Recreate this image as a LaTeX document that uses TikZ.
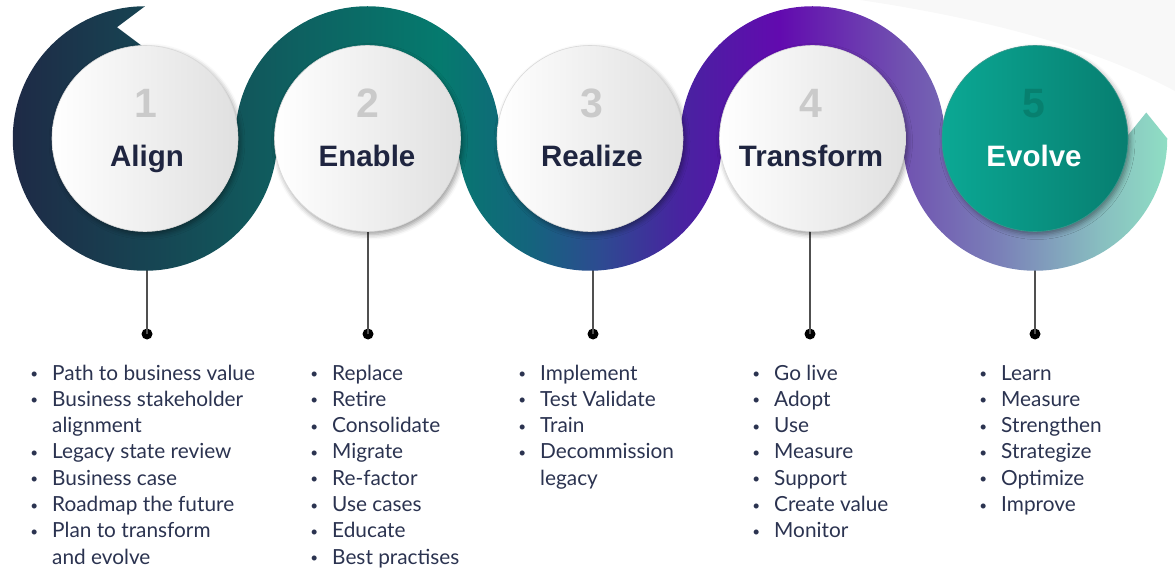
\documentclass[tikz,border=0pt]{standalone}
\usepackage{fontspec}
\setmainfont{Liberation Sans}
\newfontfamily\listfont{Lato}
\usetikzlibrary{shadows.blur}
\definecolor{bcA}{HTML}{1E2A46}
\definecolor{bcB}{HTML}{11585C}
\definecolor{bcC}{HTML}{057A6E}
\definecolor{bcD}{HTML}{14647D}
\definecolor{bcE}{HTML}{2D4B91}
\definecolor{bcF}{HTML}{4823A0}
\definecolor{bcG}{HTML}{620AAF}
\definecolor{bcH}{HTML}{7050B0}
\definecolor{bcI}{HTML}{7A80B8}
\definecolor{bcJ}{HTML}{88BEC0}
\definecolor{bcK}{HTML}{8FDEC4}
\definecolor{navytxt}{HTML}{1F2540}
\definecolor{listtxt}{HTML}{2B3350}
\definecolor{numgray}{HTML}{CACACA}
\definecolor{bubR}{HTML}{E0E0E0}
\definecolor{tealL}{HTML}{0BA894}
\definecolor{tealR}{HTML}{077E70}
\definecolor{tealnum}{HTML}{07806F}
\definecolor{stemgray}{HTML}{505050}
\definecolor{faintbg}{HTML}{F8F8F8}
\pgfdeclarehorizontalshading{bandshade}{100bp}{color(0bp)=(bcA); color(25bp)=(bcA); color(35.3bp)=(bcB); color(43.5bp)=(bcC); color(47.4bp)=(bcD); color(50.4bp)=(bcE); color(53.9bp)=(bcF); color(58.2bp)=(bcG); color(63.4bp)=(bcH); color(67.7bp)=(bcI); color(72.1bp)=(bcJ); color(75bp)=(bcK); color(100bp)=(bcK)}
\newcommand{\bi}{\makebox[0pt][r]{\raisebox{1.5pt}{\fontsize{13.5}{13.5}\selectfont •}\hspace{14pt}}}
\tikzset{
  bubble/.style={circle, minimum size=186pt, inner sep=0pt, draw=gray!30, line width=0.6pt,
    left color=white, right color=bubR,
    blur shadow={shadow xshift=2pt, shadow yshift=-3pt, shadow blur radius=5pt, shadow opacity=40}},
  bubteal/.style={bubble, draw=tealR!80!white, left color=tealL, right color=tealR},
  numtxt/.style={anchor=base, inner sep=0pt, text=numgray, font=\fontsize{41}{41}\selectfont\bfseries},
  labtxt/.style={anchor=base, inner sep=0pt, text=navytxt, font=\fontsize{29.5}{30}\selectfont\bfseries},
  stem/.style={draw=stemgray, line width=1.1pt},
  dotnode/.style={circle, fill=black, minimum size=11pt, inner sep=0pt},
  listnode/.style={anchor=base west, inner sep=0pt, text=listtxt, font=\listfont\fontsize{20.8}{26.3}\selectfont}
}
\begin{document}
\begin{tikzpicture}[x=1pt,y=1pt]
\useasboundingbox (0,0) rectangle (1175,571);
% faint background swoosh
\fill[faintbg] (860,571) .. controls (1000,550) and (1100,520) .. (1175,480) -- (1175,571) -- cycle;
% dots and stems
\node[dotnode] (d1) at (147,237) {};
\node[dotnode] (d2) at (368,237) {};
\node[dotnode] (d3) at (593,237) {};
\node[dotnode] (d4) at (810,237) {};
\node[dotnode] (d5) at (1035,237) {};
\coordinate (s1) at (147,400);
\coordinate (s2) at (368,400);
\coordinate (s3) at (593,400);
\coordinate (s4) at (810,400);
\coordinate (s5) at (1035,400);
\foreach \i in {1,...,5} {\draw[stem] (s\i) -- (d\i.center);}
% ribbon
\shade[shading=bandshade] (145,564.75)
  arc[start angle=90, end angle=360, radius=132.25pt]
  arc[start angle=180, end angle=0, radius=90.25pt]
  arc[start angle=180, end angle=360, radius=132.25pt]
  arc[start angle=180, end angle=0, radius=90.25pt]
  arc[start angle=180, end angle=360, radius=132.25pt]
  -- (1146.25,458.5) -- (1125.25,432.5)
  arc[start angle=360, end angle=180, radius=90.25pt]
  arc[start angle=0, end angle=180, radius=132.25pt]
  arc[start angle=360, end angle=180, radius=90.25pt]
  arc[start angle=0, end angle=180, radius=132.25pt]
  arc[start angle=360, end angle=90, radius=90.25pt]
  -- (117,543.75) -- cycle;
% bubbles
\node[bubble] (c1) at (145,432.5) {};
\node[bubble] (c2) at (367.5,432.5) {};
\node[bubble] (c3) at (590,432.5) {};
\node[bubble] (c4) at (812.5,432.5) {};
\node[bubteal] (c5) at (1035,432.5) {};
\node[numtxt] (n1) at (146,453) {1};
\node[numtxt] (n2) at (368,453) {2};
\node[numtxt] (n3) at (592,453) {3};
\node[numtxt] (n4) at (811,453) {4};
\node[numtxt, text=tealnum] (n5) at (1034,453) {5};
\node[labtxt] (t1) at (147,404) {Align};
\node[labtxt] (t2) at (367,404) {Enable};
\node[labtxt] (t3) at (592,404) {Realize};
\node[labtxt] (t4) at (811,404) {Transform};
\node[labtxt, text=white] (t5) at (1034,404) {Evolve};
% lists
\node[listnode] (l1) at (52,191) {\begin{tabular}[t]{@{}l@{}}
\bi Path to business value\\
\bi Business stakeholder\\
alignment\\
\bi Legacy state review\\
\bi Business case\\
\bi Roadmap the future\\
\bi Plan to transform\\
and evolve
\end{tabular}};
\node[listnode] (l2) at (332,191) {\begin{tabular}[t]{@{}l@{}}
\bi Replace\\
\bi Retire\\
\bi Consolidate\\
\bi Migrate\\
\bi Re-factor\\
\bi Use cases\\
\bi Educate\\
\bi Best practises
\end{tabular}};
\node[listnode] (l3) at (540,191) {\begin{tabular}[t]{@{}l@{}}
\bi Implement\\
\bi Test Validate\\
\bi Train\\
\bi Decommission\\
legacy
\end{tabular}};
\node[listnode] (l4) at (774,191) {\begin{tabular}[t]{@{}l@{}}
\bi Go live\\
\bi Adopt\\
\bi Use\\
\bi Measure\\
\bi Support\\
\bi Create value\\
\bi Monitor
\end{tabular}};
\node[listnode] (l5) at (1001,191) {\begin{tabular}[t]{@{}l@{}}
\bi Learn\\
\bi Measure\\
\bi Strengthen\\
\bi Strategize\\
\bi Optimize\\
\bi Improve
\end{tabular}};
\end{tikzpicture}
\end{document}
